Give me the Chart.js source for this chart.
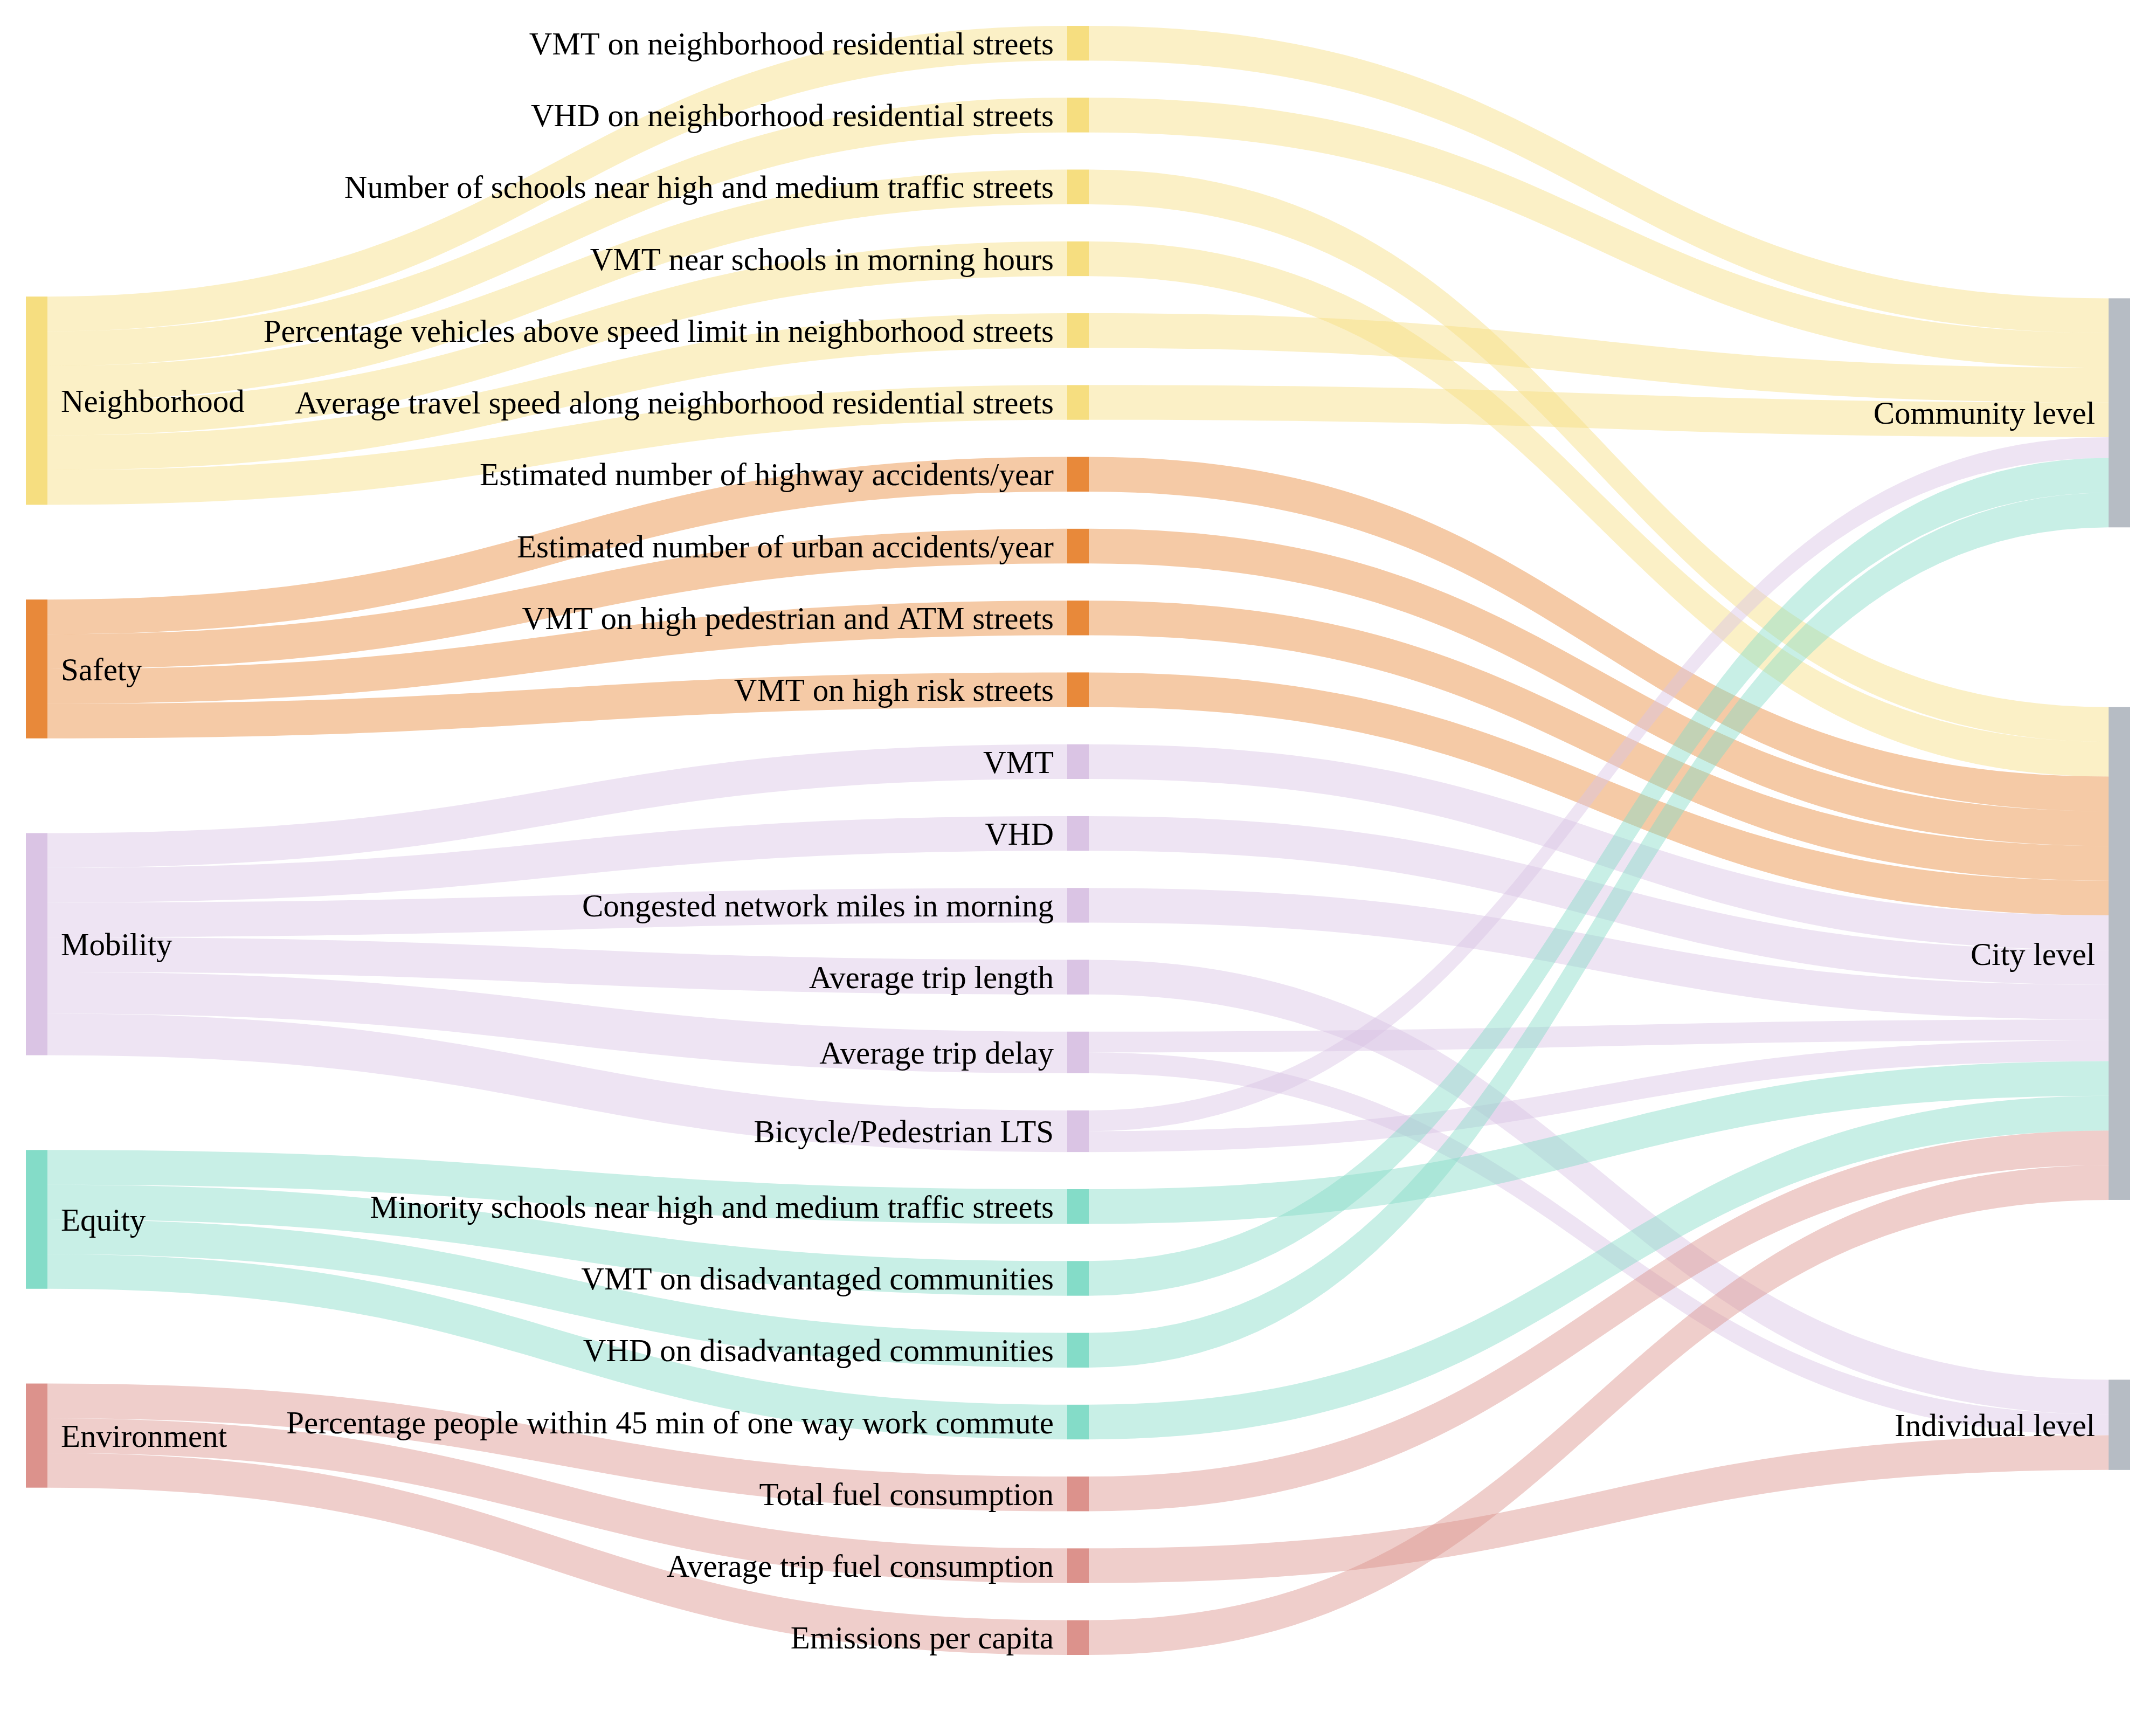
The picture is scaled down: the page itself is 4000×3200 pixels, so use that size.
<!DOCTYPE html>
<html>
<head>
<meta charset="utf-8">
<script src="https://cdn.jsdelivr.net/npm/chart.js@4.4.1/dist/chart.umd.min.js"></script>
<style>
  body { margin: 0; background: #fff; }
  #wrap { width: 4000px; height: 3200px; }
</style>
</head>
<body>
<div id="wrap"><canvas id="myChart" width="4000" height="3200"></canvas></div>
<script>
// LEFT COLUMN: categories
const categories = ['Neighborhood', 'Safety', 'Mobility', 'Equity', 'Environment'];
const categoryColors = ['#F6DE80', '#E8893A', '#DAC4E4', '#84DCC8', '#DC928C'];

// MIDDLE COLUMN: indicators and the category each belongs to
const indicators = [
  'VMT on neighborhood residential streets',
  'VHD on neighborhood residential streets',
  'Number of schools near high and medium traffic streets',
  'VMT near schools in morning hours',
  'Percentage vehicles above speed limit in neighborhood streets',
  'Average travel speed along neighborhood residential streets',
  'Estimated number of highway accidents/year',
  'Estimated number of urban accidents/year',
  'VMT on high pedestrian and ATM streets',
  'VMT on high risk streets',
  'VMT',
  'VHD',
  'Congested network miles in morning',
  'Average trip length',
  'Average trip delay',
  'Bicycle/Pedestrian LTS',
  'Minority schools near high and medium traffic streets',
  'VMT on disadvantaged communities',
  'VHD on disadvantaged communities',
  'Percentage people within 45 min of one way work commute',
  'Total fuel consumption',
  'Average trip fuel consumption',
  'Emissions per capita'
];
const indicatorCategory = [0, 0, 0, 0, 0, 0, 1, 1, 1, 1, 2, 2, 2, 2, 2, 2, 3, 3, 3, 3, 4, 4, 4];

// RIGHT COLUMN: levels
const levels = ['Community level', 'City level', 'Individual level'];
const levelColor = '#B6BCC4';

// flows indicator -> level
const flowFrom  = [0, 1, 2, 3, 4, 5, 6, 7, 8, 9, 10, 11, 12, 13, 14, 14, 15, 15, 16, 17, 18, 19, 20, 21, 22];
const flowTo    = [0, 0, 1, 1, 0, 0, 1, 1, 1, 1, 1, 1, 1, 2, 1, 2, 0, 1, 1, 0, 0, 1, 1, 2, 1];
const flowValue = [1, 1, 1, 1, 1, 1, 1, 1, 1, 1, 1, 1, 1, 1, 0.6, 0.6, 0.6, 0.6, 1, 1, 1, 1, 1, 1, 1];

// style settings
const NODE_W = 40;
const LABEL_GAP = 25;
const FONT_SIZE = 59;
const FONT = FONT_SIZE + 'px "Liberation Serif", "Times New Roman", serif';
const colPad = [2.73, 1.07, 5.18];   // gap between nodes, in flow units
const colShift = [1.49, 0, 1.26];    // column drop from centre, in flow units

function rgba(hex, a) {
  const n = parseInt(hex.slice(1), 16);
  return 'rgba(' + (n >> 16) + ',' + ((n >> 8) & 255) + ',' + (n & 255) + ',' + a + ')';
}

// build nodes and links
const nodes = [];
const links = [];
categories.forEach((c, i) => nodes.push({ label: c, col: 0, color: categoryColors[i], inL: [], outL: [] }));
const indStart = nodes.length;
indicators.forEach((c, i) => nodes.push({ label: c, col: 1, color: categoryColors[indicatorCategory[i]], inL: [], outL: [] }));
const lvlStart = nodes.length;
levels.forEach(c => nodes.push({ label: c, col: 2, color: levelColor, inL: [], outL: [] }));

function addLink(s, t, v, color) {
  const l = { source: nodes[s], target: nodes[t], value: v, color: color };
  nodes[s].outL.push(l);
  nodes[t].inL.push(l);
  links.push(l);
}

indicators.forEach((c, i) => {
  let total = 0;
  flowFrom.forEach((f, k) => { if (f === i) total += flowValue[k]; });
  addLink(indicatorCategory[i], indStart + i, total, categoryColors[indicatorCategory[i]]);
});
flowFrom.forEach((f, k) => {
  addLink(indStart + f, lvlStart + flowTo[k], flowValue[k], categoryColors[indicatorCategory[f]]);
});

nodes.forEach(n => {
  const a = n.inL.reduce((s, l) => s + l.value, 0);
  const b = n.outL.reduce((s, l) => s + l.value, 0);
  n.value = Math.max(a, b);
});

// vertical layout, each column centred then shifted
const columns = [0, 1, 2].map(c => nodes.filter(n => n.col === c));
const spans = columns.map((list, c) => list.reduce((s, n) => s + n.value, 0) + colPad[c] * (list.length - 1));
const yMax = Math.max(...spans);
columns.forEach((list, c) => {
  let pos = (yMax - spans[c]) / 2 + colShift[c];
  list.forEach(n => { n.y0 = pos; n.y1 = pos + n.value; pos = n.y1 + colPad[c]; });
});

// stack links inside each node
const mid = n => (n.y0 + n.y1) / 2;
nodes.forEach(n => {
  n.outL.sort((a, b) => mid(a.target) - mid(b.target));
  let p = n.y0;
  n.outL.forEach(l => { l.sy0 = p; p += l.value; l.sy1 = p; });
  n.inL.sort((a, b) => mid(a.source) - mid(b.source));
  p = n.y0;
  n.inL.forEach(l => { l.ty0 = p; p += l.value; l.ty1 = p; });
});

// draws the sankey on the chart area through the chart scales
const sankeyPlugin = {
  id: 'sankey',
  afterDraw(chart) {
    const ctx = chart.ctx;
    const x = chart.scales.x;
    const y = chart.scales.y;
    const colX = [0, 0.5, 1];

    links.forEach(l => {
      const xs = x.getPixelForValue(colX[l.source.col]) + NODE_W / 2;
      const xt = x.getPixelForValue(colX[l.target.col]) - NODE_W / 2;
      const xm = (xs + xt) / 2;
      const s0 = y.getPixelForValue(l.sy0), s1 = y.getPixelForValue(l.sy1);
      const t0 = y.getPixelForValue(l.ty0), t1 = y.getPixelForValue(l.ty1);
      ctx.beginPath();
      ctx.moveTo(xs, s0);
      ctx.bezierCurveTo(xm, s0, xm, t0, xt, t0);
      ctx.lineTo(xt, t1);
      ctx.bezierCurveTo(xm, t1, xm, s1, xs, s1);
      ctx.closePath();
      ctx.fillStyle = rgba(l.color, 0.45);
      ctx.fill();
    });

    nodes.forEach(n => {
      const xc = x.getPixelForValue(colX[n.col]);
      const top = y.getPixelForValue(n.y0);
      const bot = y.getPixelForValue(n.y1);
      ctx.fillStyle = n.color;
      ctx.fillRect(xc - NODE_W / 2, top, NODE_W, bot - top);
    });

    ctx.font = FONT;
    ctx.fillStyle = '#000';
    ctx.textBaseline = 'alphabetic';
    nodes.forEach(n => {
      const xc = x.getPixelForValue(colX[n.col]);
      const yc = (y.getPixelForValue(n.y0) + y.getPixelForValue(n.y1)) / 2 + 0.35 * FONT_SIZE;
      if (n.col === 0) {
        ctx.textAlign = 'left';
        ctx.fillText(n.label, xc + NODE_W / 2 + LABEL_GAP, yc);
      } else {
        ctx.textAlign = 'right';
        ctx.fillText(n.label, xc - NODE_W / 2 - LABEL_GAP, yc);
      }
    });
  }
};

const chartCanvas = document.getElementById('myChart');
const myChart = new Chart(chartCanvas.getContext('2d'), {
  type: 'scatter',
  data: { datasets: [] },
  options: {
    responsive: false,
    animation: false,
    devicePixelRatio: 1,
    layout: { padding: { left: 68, right: 68, top: 48, bottom: 130 } },
    scales: {
      x: { type: 'linear', min: 0, max: 1, display: false },
      y: { type: 'linear', min: 0, max: yMax, reverse: true, display: false }
    },
    plugins: { legend: { display: false }, tooltip: { enabled: false } }
  },
  plugins: [sankeyPlugin]
});
</script>
</body>
</html>
